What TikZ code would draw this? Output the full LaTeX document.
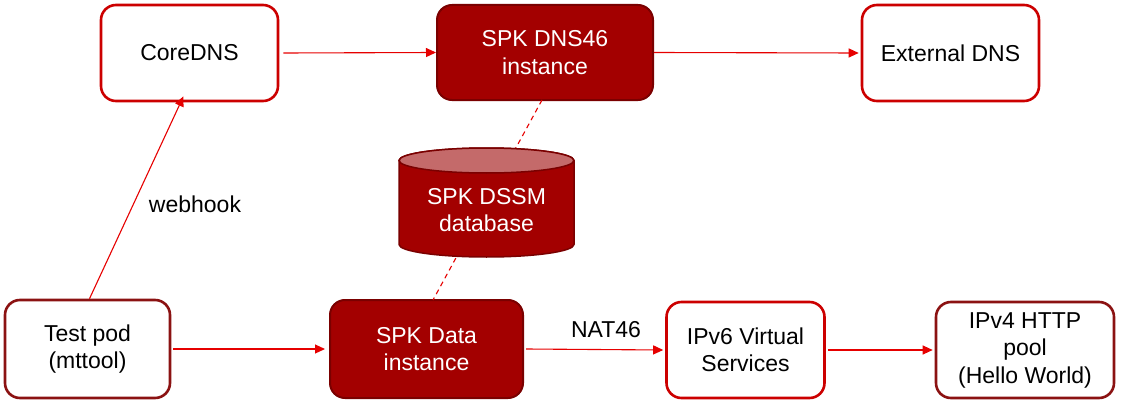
\documentclass[tikz,border=0pt]{standalone}
\usepackage{fontspec}
\setmainfont{Liberation Sans}
\usetikzlibrary{shapes.geometric,arrows.meta}
\definecolor{brightred}{HTML}{CC0000}
\definecolor{darkrim}{HTML}{8B1212}
\definecolor{fillred}{HTML}{A30000}
\definecolor{fillrim}{HTML}{7A0000}
\definecolor{arrowred}{HTML}{E60000}
\definecolor{toplight}{HTML}{C46A6A}
\begin{document}
\begin{tikzpicture}[x=1pt,y=-1pt,
  font=\fontsize{23}{27.5}\selectfont,
  whitebox/.style={draw=brightred,line width=2.6pt,fill=white,rounded corners=15pt,align=center,inner sep=0pt},
  darkbox/.style={draw=darkrim,line width=2.6pt,fill=white,rounded corners=15pt,align=center,inner sep=0pt},
  filledbox/.style={draw=fillrim,line width=2pt,fill=fillred,text=white,rounded corners=15pt,align=center,inner sep=0pt},
  conn/.style={draw=arrowred,line width=1.1pt,-{Triangle[length=10pt,width=9pt]}},
  lbl/.style={text=black,inner sep=0pt}]
\useasboundingbox (0,0) rectangle (1125,404);
\node[whitebox,minimum width=177pt,minimum height=96pt] (core) at (189.5,53) {CoreDNS};
\node[filledbox,minimum width=216pt,minimum height=95pt] (dns46) at (545,52.5) {SPK DNS46\\instance};
\node[whitebox,minimum width=177pt,minimum height=96pt] (ext) at (950.5,53) {External DNS};
\node[darkbox,minimum width=165pt,minimum height=98pt] (pod) at (87.5,349) {Test pod\\(mttool)};
\node[filledbox,minimum width=193pt,minimum height=98pt] (data) at (426.5,349) {SPK Data\\instance};
\node[whitebox,minimum width=158pt,minimum height=96pt] (v6) at (745.5,350) {IPv6 Virtual\\Services};
\node[darkbox,minimum width=178pt,minimum height=96pt] (v4) at (1025,350) {IPv4 HTTP\\pool\\(Hello World)};
% dashed link behind the cylinder
\coordinate (dtop) at (542,100);
\coordinate (dbot) at (433,300);
\draw[arrowred,line width=1.1pt,dash pattern=on 5pt off 4pt] (dtop) -- (dbot);
% cylinder
\fill[fillred,draw=fillrim,line width=1.5pt] (399,160.5) -- (399,244.5) arc[start angle=180,end angle=360,x radius=87.5pt,y radius=12.5pt] -- (574,160.5) arc[start angle=0,end angle=180,x radius=87.5pt,y radius=12.5pt] -- cycle;
\fill[toplight,draw=fillrim,line width=1.5pt] (486.5,160.5) ellipse[x radius=87.5pt,y radius=12.5pt];
\node[text=white,align=center,inner sep=0pt] (db) at (486.5,210) {SPK DSSM\\database};
% connectors
\draw[conn] ([xshift=4pt]core.east) -- (dns46.west);
\draw[conn] (dns46.east) -- ([xshift=-2pt]ext.west);
\draw[conn] ([xshift=2pt]pod.north) -- ([xshift=-6pt,yshift=6pt]core.south);
\draw[conn] ([xshift=2pt]pod.east) -- ([xshift=-4pt]data.west);
\draw[conn] ([xshift=2pt]data.east) -- ([xshift=-2pt]v6.west);
\draw[conn] ([xshift=2pt]v6.east) -- ([xshift=-2pt]v4.west);
\node[lbl] (wh) at (195,204) {webhook};
\node[lbl] (nat) at (606,330) {NAT46};
\end{tikzpicture}
\end{document}
